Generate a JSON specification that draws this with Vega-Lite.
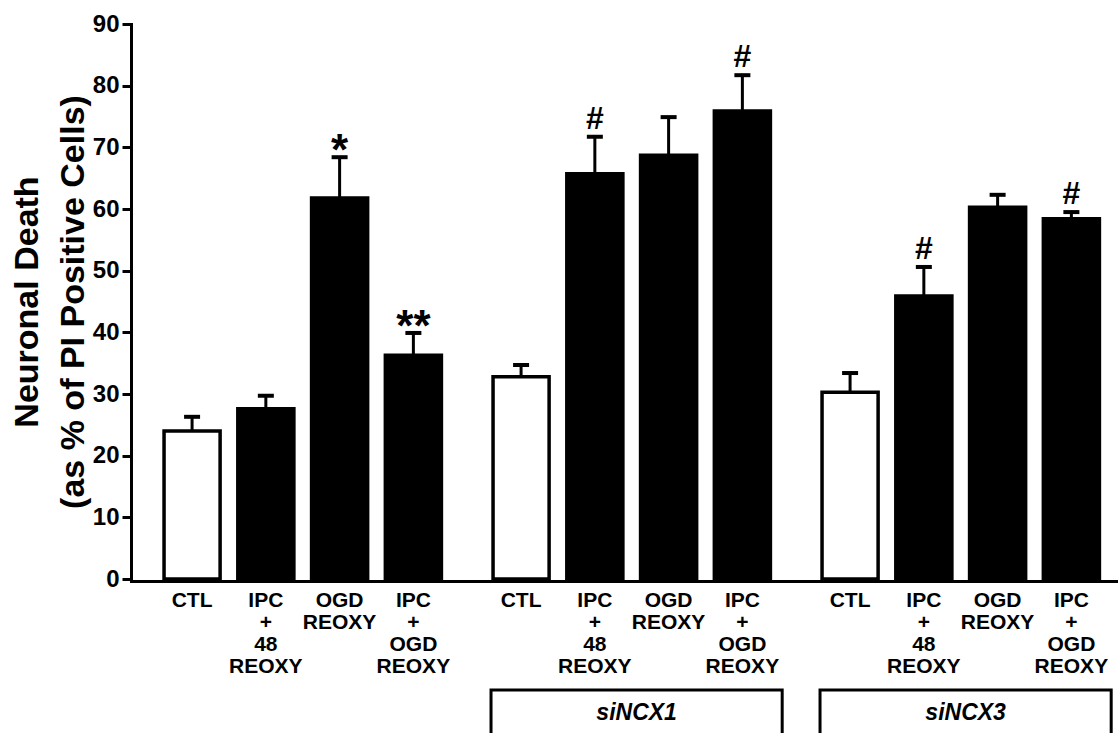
{
  "$schema": "https://vega.github.io/schema/vega-lite/v6.json",
  "padding": {"top": 12, "left": 10, "right": 0, "bottom": 0},
  "background": "white",
  "config": {
    "view": {"stroke": null},
    "font": "Liberation Sans",
    "axis": {
      "domainColor": "black", "domainWidth": 3, "domainCap": "square",
      "tickColor": "black", "tickWidth": 3,
      "labelColor": "black", "labelFont": "Liberation Sans", "labelFontWeight": "bold",
      "titleColor": "black", "titleFont": "Liberation Sans", "titleFontWeight": "bold",
      "grid": false
    }
  },
  "spacing": 12,
  "vconcat": [
    {
      "data": {"values": [
        {"group": "Control", "cond": "CTL", "mean": 24.0, "upper": 26.3, "sig": ""},
        {"group": "Control", "cond": "IPC + 48 REOXY", "mean": 27.6, "upper": 29.7, "sig": ""},
        {"group": "Control", "cond": "OGD REOXY", "mean": 61.8, "upper": 68.4, "sig": "*"},
        {"group": "Control", "cond": "IPC + OGD REOXY", "mean": 36.3, "upper": 39.9, "sig": "**"},
        {"group": "siNCX1", "cond": "CTL", "mean": 32.8, "upper": 34.7, "sig": ""},
        {"group": "siNCX1", "cond": "IPC + 48 REOXY", "mean": 65.7, "upper": 71.7, "sig": "#"},
        {"group": "siNCX1", "cond": "OGD REOXY", "mean": 68.7, "upper": 74.9, "sig": ""},
        {"group": "siNCX1", "cond": "IPC + OGD REOXY", "mean": 75.9, "upper": 81.7, "sig": "#"},
        {"group": "siNCX3", "cond": "CTL", "mean": 30.3, "upper": 33.4, "sig": ""},
        {"group": "siNCX3", "cond": "IPC + 48 REOXY", "mean": 45.9, "upper": 50.6, "sig": "#"},
        {"group": "siNCX3", "cond": "OGD REOXY", "mean": 60.3, "upper": 62.3, "sig": ""},
        {"group": "siNCX3", "cond": "IPC + OGD REOXY", "mean": 58.4, "upper": 59.5, "sig": "#"}
      ]},
      "facet": {"column": {"field": "group", "type": "nominal", "sort": ["Control", "siNCX1", "siNCX3"], "header": null}},
      "spacing": 0,
      "spec": {
        "width": 329,
        "height": 555,
        "layer": [
          {
            "mark": {"type": "bar", "stroke": "black", "strokeWidth": 3.5},
            "encoding": {
              "x": {"field": "cond", "type": "nominal", "sort": ["CTL", "IPC + 48 REOXY", "OGD REOXY", "IPC + OGD REOXY"],
                "scale": {"paddingInner": 0.24, "paddingOuter": 0.35, "align": 0.64},
                "axis": {"title": null, "ticks": false, "labelAngle": 0, "labelFontSize": 21, "labelLineHeight": 22, "labelPadding": 8, "labelLimit": 0, "labelExpr": "datum.value == 'CTL' ? 'CTL' : datum.value == 'OGD REOXY' ? ['OGD', 'REOXY'] : datum.value == 'IPC + 48 REOXY' ? ['IPC', '+', '48', 'REOXY'] : ['IPC', '+', 'OGD', 'REOXY']"}},
              "y": {"field": "mean", "type": "quantitative",
                "scale": {"domain": [0, 90], "nice": false},
                "axis": {"title": ["Neuronal Death", "(as % of PI Positive Cells)"], "values": [0, 10, 20, 30, 40, 50, 60, 70, 80, 90], "labelFontSize": 24, "tickSize": 9, "labelPadding": 3, "titleFontSize": 34, "titleLineHeight": 46, "titlePadding": 2}},
              "fill": {"field": "cond", "type": "nominal",
                "scale": {"domain": ["CTL", "IPC + 48 REOXY", "OGD REOXY", "IPC + OGD REOXY"], "range": ["white", "black", "black", "black"]},
                "legend": null}
            }
          },
          {
            "mark": {"type": "rule", "color": "black", "strokeWidth": 3},
            "encoding": {
              "x": {"field": "cond", "type": "nominal", "sort": ["CTL", "IPC + 48 REOXY", "OGD REOXY", "IPC + OGD REOXY"],
                "axis": {"title": null, "ticks": false, "labelAngle": 0, "labelFontSize": 21, "labelLineHeight": 22, "labelPadding": 8, "labelLimit": 0, "labelExpr": "datum.value == 'CTL' ? 'CTL' : datum.value == 'OGD REOXY' ? ['OGD', 'REOXY'] : datum.value == 'IPC + 48 REOXY' ? ['IPC', '+', '48', 'REOXY'] : ['IPC', '+', 'OGD', 'REOXY']"}},
              "y": {"field": "mean", "type": "quantitative", "axis": {"title": ["Neuronal Death", "(as % of PI Positive Cells)"], "values": [0, 10, 20, 30, 40, 50, 60, 70, 80, 90], "labelFontSize": 24, "tickSize": 9, "labelPadding": 3, "titleFontSize": 34, "titleLineHeight": 46, "titlePadding": 2}},
              "y2": {"field": "upper"}
            }
          },
          {
            "mark": {"type": "tick", "color": "black", "size": 16, "thickness": 4, "opacity": 1},
            "encoding": {
              "x": {"field": "cond", "type": "nominal", "sort": ["CTL", "IPC + 48 REOXY", "OGD REOXY", "IPC + OGD REOXY"],
                "axis": {"title": null, "ticks": false, "labelAngle": 0, "labelFontSize": 21, "labelLineHeight": 22, "labelPadding": 8, "labelLimit": 0, "labelExpr": "datum.value == 'CTL' ? 'CTL' : datum.value == 'OGD REOXY' ? ['OGD', 'REOXY'] : datum.value == 'IPC + 48 REOXY' ? ['IPC', '+', '48', 'REOXY'] : ['IPC', '+', 'OGD', 'REOXY']"}},
              "y": {"field": "upper", "type": "quantitative", "axis": {"title": ["Neuronal Death", "(as % of PI Positive Cells)"], "values": [0, 10, 20, 30, 40, 50, 60, 70, 80, 90], "labelFontSize": 24, "tickSize": 9, "labelPadding": 3, "titleFontSize": 34, "titleLineHeight": 46, "titlePadding": 2}}
            }
          },
          {
            "transform": [{"filter": "datum.sig == '*' || datum.sig == '**'"}],
            "mark": {"type": "text", "color": "black", "fontSize": 44, "fontWeight": "bold", "baseline": "alphabetic", "dy": 8},
            "encoding": {
              "x": {"field": "cond", "type": "nominal", "sort": ["CTL", "IPC + 48 REOXY", "OGD REOXY", "IPC + OGD REOXY"],
                "axis": {"title": null, "ticks": false, "labelAngle": 0, "labelFontSize": 21, "labelLineHeight": 22, "labelPadding": 8, "labelLimit": 0, "labelExpr": "datum.value == 'CTL' ? 'CTL' : datum.value == 'OGD REOXY' ? ['OGD', 'REOXY'] : datum.value == 'IPC + 48 REOXY' ? ['IPC', '+', '48', 'REOXY'] : ['IPC', '+', 'OGD', 'REOXY']"}},
              "y": {"field": "upper", "type": "quantitative", "axis": {"title": ["Neuronal Death", "(as % of PI Positive Cells)"], "values": [0, 10, 20, 30, 40, 50, 60, 70, 80, 90], "labelFontSize": 24, "tickSize": 9, "labelPadding": 3, "titleFontSize": 34, "titleLineHeight": 46, "titlePadding": 2}},
              "text": {"field": "sig"}
            }
          },
          {
            "transform": [{"filter": "datum.sig == '#'"}],
            "mark": {"type": "text", "color": "black", "fontSize": 32, "fontWeight": "bold", "baseline": "alphabetic", "dy": -8},
            "encoding": {
              "x": {"field": "cond", "type": "nominal", "sort": ["CTL", "IPC + 48 REOXY", "OGD REOXY", "IPC + OGD REOXY"],
                "axis": {"title": null, "ticks": false, "labelAngle": 0, "labelFontSize": 21, "labelLineHeight": 22, "labelPadding": 8, "labelLimit": 0, "labelExpr": "datum.value == 'CTL' ? 'CTL' : datum.value == 'OGD REOXY' ? ['OGD', 'REOXY'] : datum.value == 'IPC + 48 REOXY' ? ['IPC', '+', '48', 'REOXY'] : ['IPC', '+', 'OGD', 'REOXY']"}},
              "y": {"field": "upper", "type": "quantitative", "axis": {"title": ["Neuronal Death", "(as % of PI Positive Cells)"], "values": [0, 10, 20, 30, 40, 50, 60, 70, 80, 90], "labelFontSize": 24, "tickSize": 9, "labelPadding": 3, "titleFontSize": 34, "titleLineHeight": 46, "titlePadding": 2}},
              "text": {"field": "sig"}
            }
          }
        ]
      }
    },
    {
      "width": 987,
      "height": 46,
      "data": {"values": [{"group": "siNCX1"}, {"group": "siNCX3"}]},
      "layer": [
        {
          "mark": {"type": "rect", "fill": "white", "stroke": "black", "strokeWidth": 3},
          "encoding": {
            "x": {"field": "group", "type": "nominal", "scale": {"domain": ["Control", "siNCX1", "siNCX3"], "paddingInner": 0.115, "paddingOuter": 0.0575, "align": 0.82}, "axis": null}
          }
        },
        {
          "mark": {"type": "text", "color": "black", "fontSize": 23, "fontWeight": "bold", "fontStyle": "italic"},
          "encoding": {
            "x": {"field": "group", "type": "nominal", "axis": null},
            "text": {"field": "group"}
          }
        }
      ]
    }
  ]
}
